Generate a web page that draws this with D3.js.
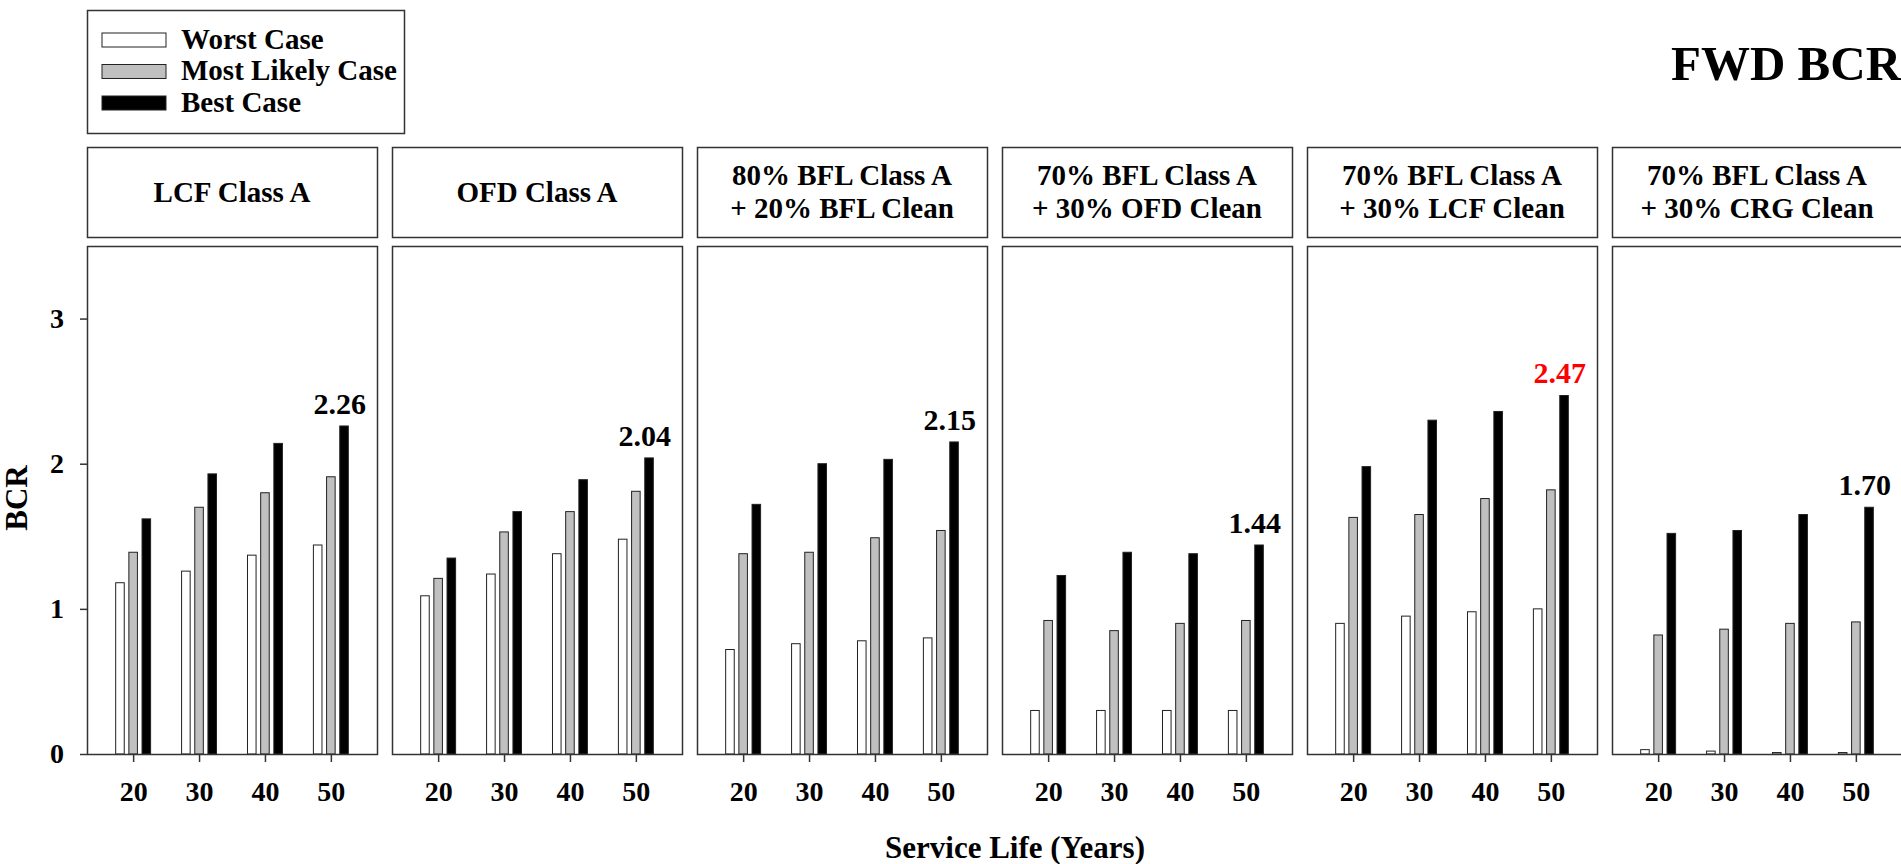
<!DOCTYPE html>
<html>
<head>
<meta charset="utf-8">
<title>FWD BCR</title>
<script src="https://cdn.jsdelivr.net/npm/d3@7"></script>
<style>
    html, body { margin: 0; padding: 0; background: #fff; }
    svg { display: block; }
    text { font-family: "Liberation Serif", "Times New Roman", serif; font-weight: bold; fill: #000; }
</style>
</head>
<body>
<div id="chart"></div>
<script>
// chart data
const years = [20, 30, 40, 50];
const yTicks = [0, 1, 2, 3];
const seriesNames = ["Worst Case", "Most Likely Case", "Best Case"];
const panelTitles = [
    ["LCF Class A"],
    ["OFD Class A"],
    ["80% BFL Class A", "+ 20% BFL Clean"],
    ["70% BFL Class A", "+ 30% OFD Clean"],
    ["70% BFL Class A", "+ 30% LCF Clean"],
    ["70% BFL Class A", "+ 30% CRG Clean"]
];
const worstCase = [
    [1.18, 1.26, 1.37, 1.44],
    [1.09, 1.24, 1.38, 1.48],
    [0.72, 0.76, 0.78, 0.80],
    [0.30, 0.30, 0.30, 0.30],
    [0.90, 0.95, 0.98, 1.00],
    [0.03, 0.02, 0.01, 0.01]
];
const mostLikelyCase = [
    [1.39, 1.70, 1.80, 1.91],
    [1.21, 1.53, 1.67, 1.81],
    [1.38, 1.39, 1.49, 1.54],
    [0.92, 0.85, 0.90, 0.92],
    [1.63, 1.65, 1.76, 1.82],
    [0.82, 0.86, 0.90, 0.91]
];
const bestCase = [
    [1.62, 1.93, 2.14, 2.26],
    [1.35, 1.67, 1.89, 2.04],
    [1.72, 2.00, 2.03, 2.15],
    [1.23, 1.39, 1.38, 1.44],
    [1.98, 2.30, 2.36, 2.47],
    [1.52, 1.54, 1.65, 1.70]
];

const W = 1901, H = 864;
const plotTop = 246, plotBottom = 754;
const headerTop = 147, headerBottom = 237;
const fills = ["#ffffff", "#c0c0c0", "#000000"];
const offsets = [-2, 0, 2];   // bar offsets in years
const barYears = 1.3;         // bar width in years

const svg = d3.select("#chart").append("svg")
    .attr("width", W)
    .attr("height", H);

// panel positions
const panelX = d3.scaleBand()
    .domain(d3.range(panelTitles.length))
    .range([87, 1902])
    .paddingInner(15 / 305)
    .paddingOuter(0);
const pw = panelX.bandwidth();

const x = d3.scaleLinear().domain([13, 57]).range([0, pw]);
const y = d3.scaleLinear().domain([0, 3.5]).range([plotBottom, plotTop]);
const barW = x(barYears) - x(0);

const maxBest = d3.max(bestCase, d => d3.max(d));

panelTitles.forEach((title, p) => {
    const g = svg.append("g").attr("transform", `translate(${panelX(p)},0)`);

    // header box
    g.append("rect")
        .attr("x", 0.5).attr("y", headerTop + 0.5)
        .attr("width", pw).attr("height", headerBottom - headerTop)
        .attr("fill", "#fff").attr("stroke", "#333").attr("stroke-width", 1.5);
    const mid = (headerTop + headerBottom) / 2 + 9.5;
    title.forEach((line, i) => {
        g.append("text")
            .attr("x", pw / 2)
            .attr("y", mid + (i - (title.length - 1) / 2) * 33)
            .attr("text-anchor", "middle")
            .attr("font-size", 29)
            .text(line);
    });

    // x axis ticks
    const xa = g.append("g")
        .attr("transform", `translate(0,${plotBottom})`)
        .call(d3.axisBottom(x).tickValues(years).tickSize(8).tickPadding(19).tickFormat(d3.format("d")));
    xa.select(".domain").remove();
    xa.selectAll("line").attr("stroke", "#333").attr("stroke-width", 1.5);
    xa.selectAll("text").attr("font-size", 28).attr("font-family", null).attr("fill", "#000");

    // bars
    const rows = years.map((yr, i) => ({
        year: yr,
        values: [worstCase[p][i], mostLikelyCase[p][i], bestCase[p][i]]
    }));
    g.append("g").selectAll("g")
        .data(rows)
        .join("g")
        .selectAll("rect")
        .data(d => d.values.map((v, s) => ({year: d.year, value: v, s})))
        .join("rect")
            .attr("x", d => x(d.year + offsets[d.s]) - barW / 2)
            .attr("y", d => y(d.value))
            .attr("width", barW)
            .attr("height", d => plotBottom - y(d.value))
            .attr("fill", d => fills[d.s])
            .attr("stroke", "#222")
            .attr("stroke-width", 1);

    // value label on last best case bar
    const last = years.length - 1;
    const v = bestCase[p][last];
    g.append("text")
        .attr("x", x(years[last]) + 9)
        .attr("y", y(v) - 12)
        .attr("text-anchor", "middle")
        .attr("font-size", 30)
        .style("fill", v === maxBest ? "#ff0000" : "#000")
        .text(d3.format(".2f")(v));

    // plot frame
    g.append("rect")
        .attr("x", 0.5).attr("y", plotTop + 0.5)
        .attr("width", pw).attr("height", plotBottom - plotTop)
        .attr("fill", "none").attr("stroke", "#333").attr("stroke-width", 1.5);

    // y axis on first panel only
    if (p === 0) {
        const ya = g.append("g")
            .call(d3.axisLeft(y).tickValues(yTicks).tickSize(7).tickPadding(16).tickFormat(d3.format("d")));
        ya.select(".domain").remove();
        ya.selectAll("line").attr("stroke", "#333").attr("stroke-width", 1.5);
        ya.selectAll("text").attr("font-size", 28).attr("font-family", null).attr("fill", "#000");
    }
});

// axis titles
svg.append("text")
    .attr("transform", "translate(27,498) rotate(-90)")
    .attr("text-anchor", "middle")
    .attr("font-size", 31)
    .text("BCR");
svg.append("text")
    .attr("x", 1015)
    .attr("y", 858)
    .attr("text-anchor", "middle")
    .attr("font-size", 31)
    .text("Service Life (Years)");

// chart title
svg.append("text")
    .attr("x", 1671)
    .attr("y", 80)
    .attr("font-size", 49)
    .text("FWD BCR");

// legend
const legend = svg.append("g");
legend.append("rect")
    .attr("x", 87.5).attr("y", 10.5)
    .attr("width", 317).attr("height", 123)
    .attr("fill", "#fff").attr("stroke", "#333").attr("stroke-width", 1.5);
const legendY = d3.scalePoint().domain(seriesNames).range([40, 103]);
const li = legend.selectAll("g.item")
    .data(seriesNames)
    .join("g")
    .attr("class", "item")
    .attr("transform", d => `translate(0,${legendY(d)})`);
li.append("rect")
    .attr("x", 102).attr("y", -7)
    .attr("width", 64).attr("height", 14)
    .attr("fill", (d, i) => fills[i])
    .attr("stroke", "#222").attr("stroke-width", 1);
li.append("text")
    .attr("x", 181)
    .attr("y", 8.5)
    .attr("font-size", 29)
    .text(d => d);
</script>
</body>
</html>
